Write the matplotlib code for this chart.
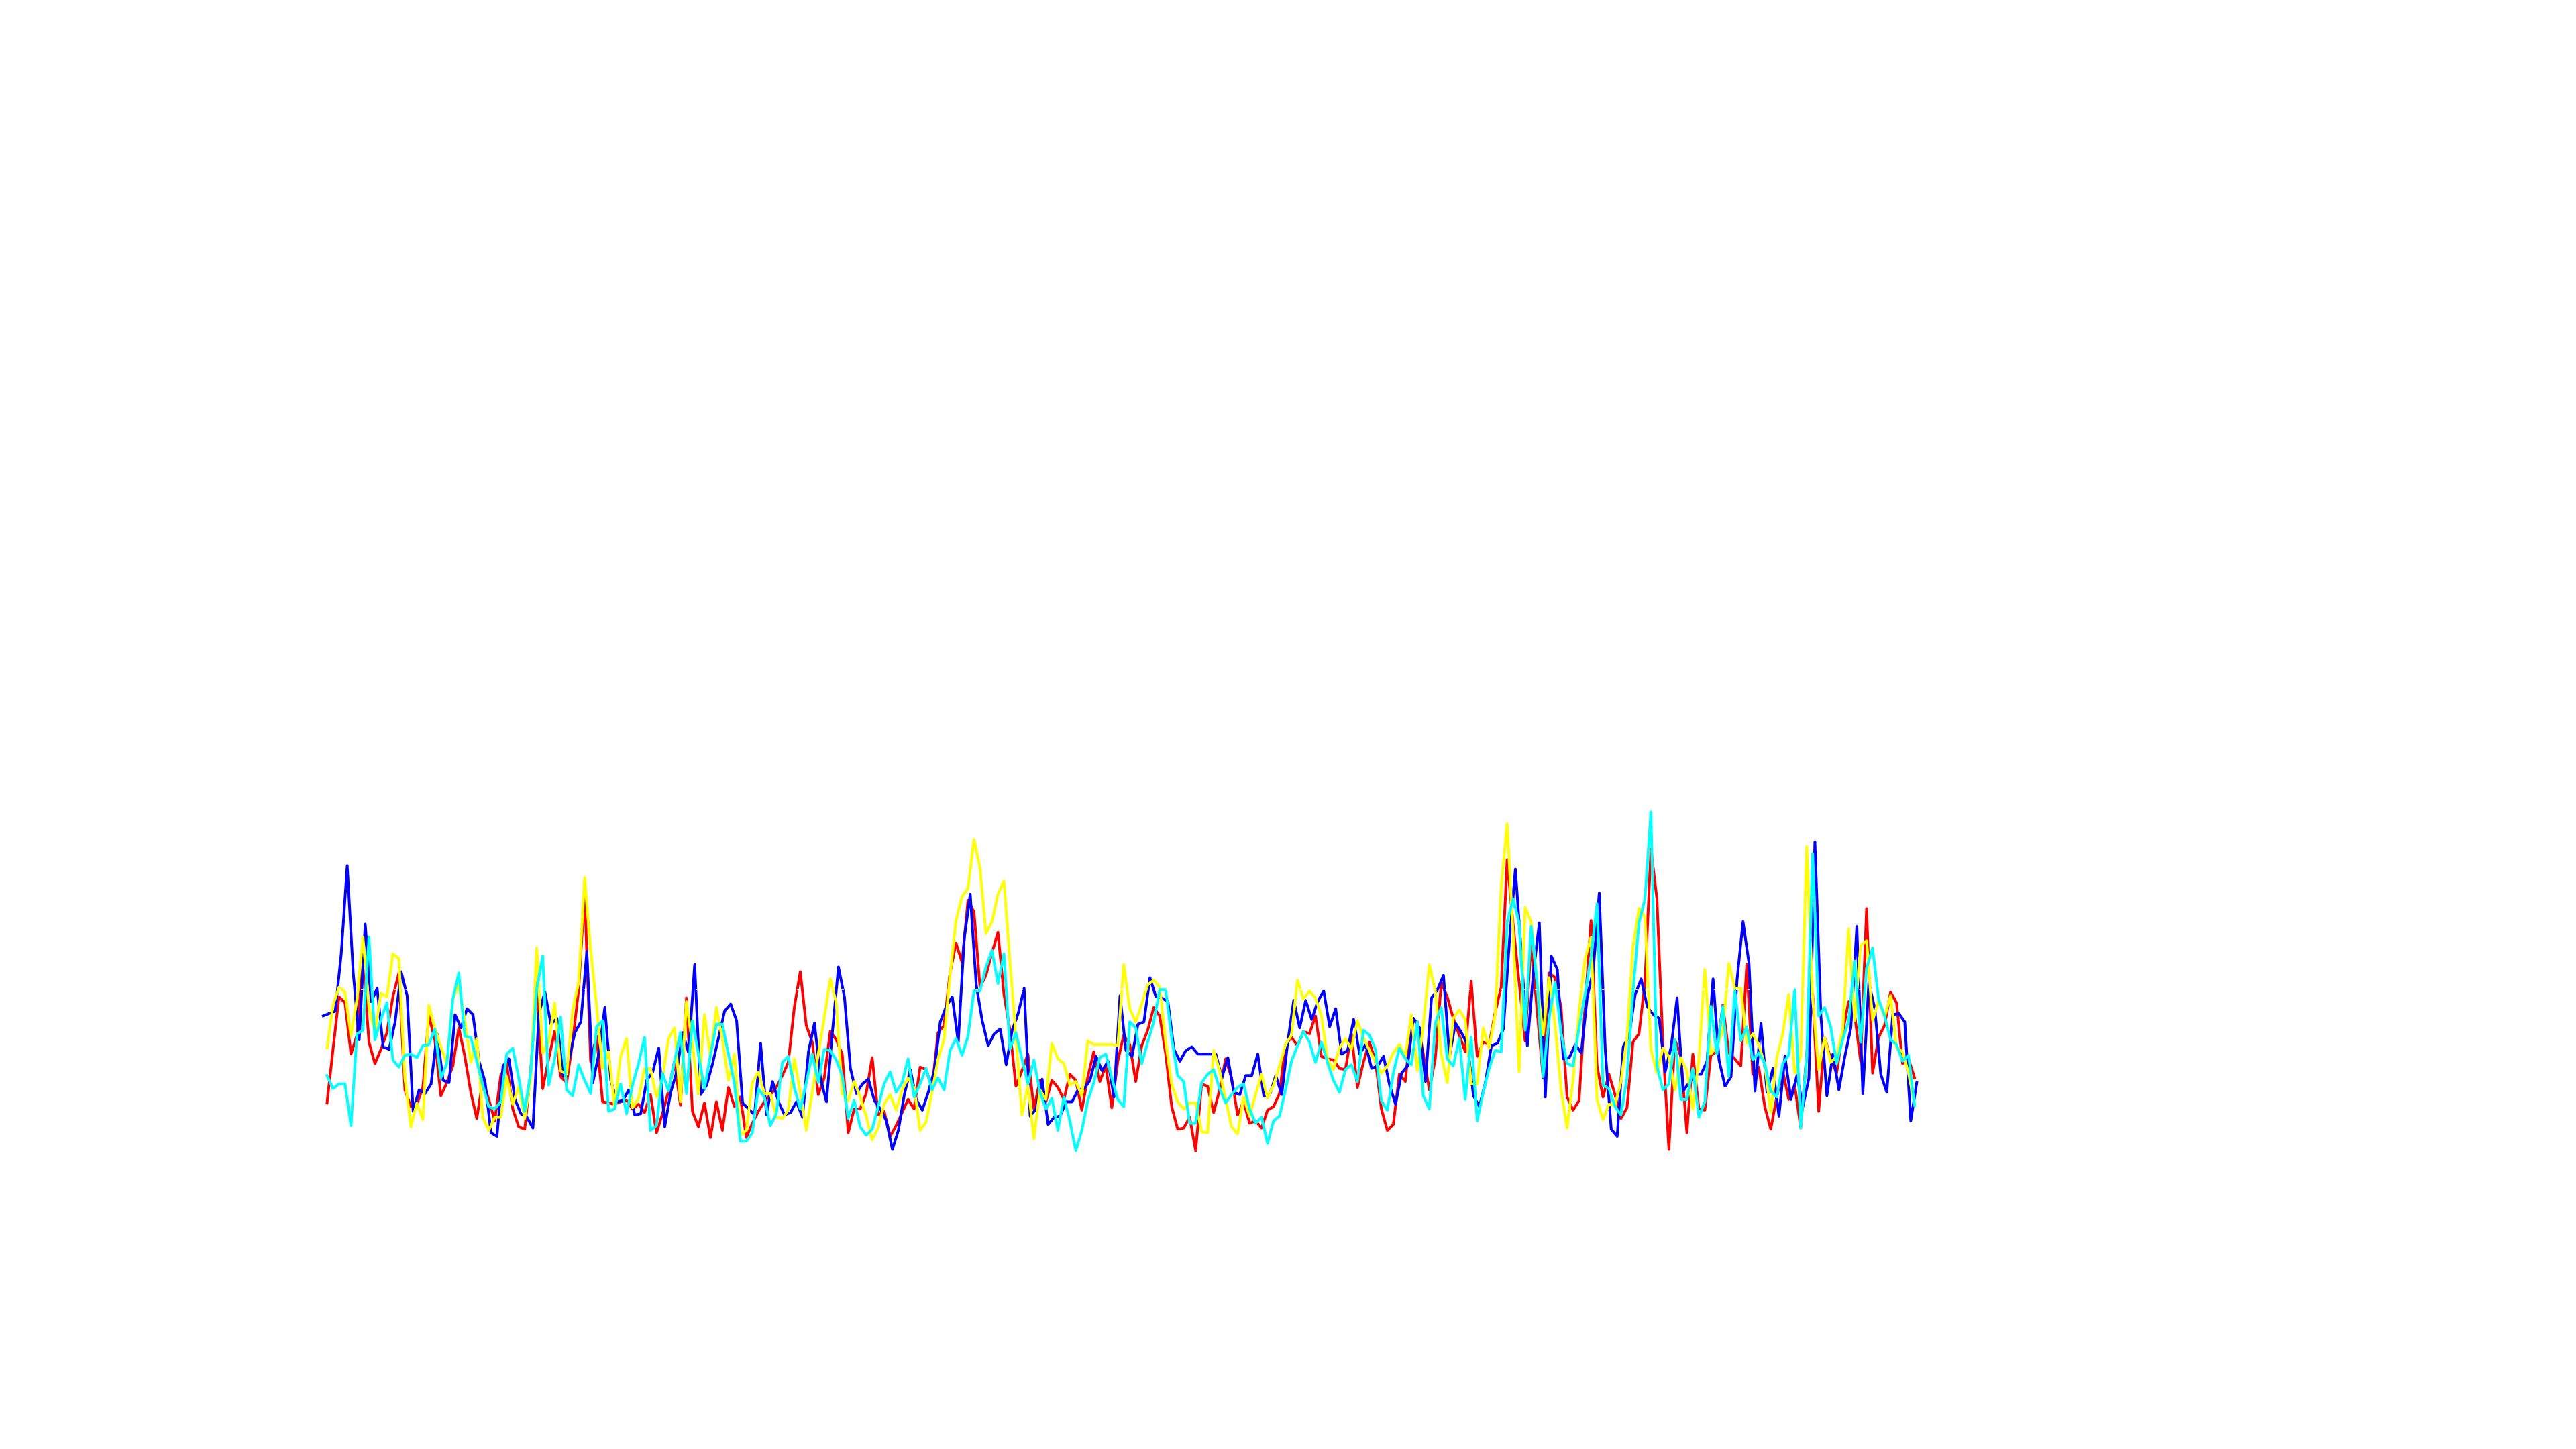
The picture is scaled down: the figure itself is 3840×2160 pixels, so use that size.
import numpy as np
import matplotlib
matplotlib.use("Agg")
import matplotlib.pyplot as plt

# ---- data ----
blue = [76, 77, 78, 102, 139, 94, 66, 114.5, 82, 87.5, 63, 62, 73.5, 94.5, 84.5, 36, 45, 43.5, 47.5, 68.5,
        49, 48, 76.5, 71, 79, 76.5, 57, 48.5, 27, 25.5, 55, 58, 41, 35, 33.5, 29, 77, 86, 72.5, 75,
        51, 57.5, 69, 73.5, 103, 48, 60, 79.5, 49, 40, 40.5, 45, 34.5, 35, 49, 52.5, 62.5, 29.5, 44, 52.5,
        69, 60.5, 97.5, 43, 47, 56, 67, 78, 81, 74, 39.5, 37, 34.5, 64.5, 34.5, 48.5, 40, 34.5, 35.5, 40,
        33.5, 61, 73, 50, 40, 69.5, 96.5, 84, 54, 43.5, 47.5, 49.5, 40.5, 37, 32, 20, 28, 43, 53.5, 41,
        36.5, 44, 53, 73.5, 80, 84, 65, 108.5, 127, 89, 74, 63.5, 68.5, 70.5, 55.5, 70, 77, 87.5, 34, 37,
        49.5, 30.5, 33.5, 34, 40, 40, 45, 45.5, 49, 59, 53, 57, 42, 84.5, 61.5, 59, 72.5, 73.5, 92, 84,
        83.5, 82, 62, 57, 61.5, 63, 60, 60, 60, 60, 50, 58.5, 44, 43, 51, 51, 60, 42.5, 43, 51,
        43, 65, 82.5, 71, 82.5, 74.5, 82, 86.5, 71.5, 79, 60, 61.5, 74.5, 60, 64, 54, 55, 59, 47, 39,
        52, 55, 75, 71, 48.5, 83.5, 87, 93, 59, 73, 69, 64, 42.5, 38, 48, 63.5, 64.5, 70.5, 107, 137.5,
        102, 63.5, 94, 115, 42, 101, 95.5, 58, 58.5, 64, 60.5, 84, 95, 127.5, 62, 28.5, 25.5, 63, 68, 85,
        91.5, 80, 76.5, 75, 52.5, 63, 83.5, 44.5, 48, 51.5, 51.5, 57, 91.5, 57.5, 46.5, 50.5, 91, 115.5, 98, 44.5,
        73, 44, 54, 34, 59, 41, 51, 38, 50, 149, 76, 42.5, 60, 45, 59, 71, 113.5, 43.5, 90, 79,
        51.5, 44, 76.5, 77, 73.5, 32, 48]

red = [39.5, 62, 84, 81.5, 60, 68, 100, 65, 56, 62, 69, 84, 94, 45, 38, 39, 46, 76, 66, 42.5,
       48, 55, 71, 59, 44, 33, 49, 41, 32, 51, 56, 37, 29.5, 28.5, 53, 90, 45.5, 58, 69.5, 50.5,
       48, 65, 87, 128, 57, 67.5, 40, 39.5, 39, 40, 40.5, 37, 39, 35.5, 43, 27, 35, 44.5, 57, 38.5,
       83.5, 36, 29.5, 39.5, 25, 40, 28, 46, 38, 42, 25, 31, 36, 40, 43, 46, 51, 56.5, 79.5, 94.5,
       72, 65, 43, 50, 69.5, 66, 60, 27, 37, 37, 43.5, 58.5, 34.5, 36, 25.5, 30, 35.5, 41, 37, 54.5,
       53.5, 46, 69, 72, 94, 106.5, 98.5, 124.5, 119.5, 88, 93, 102.5, 111, 85, 70, 46.5, 53, 60, 37, 49,
       40, 49, 46, 41, 51.5, 49, 36.5, 50.5, 61, 48.5, 55, 37.5, 57, 68, 64, 48.5, 63.5, 70, 79.5, 76,
       60, 38, 28.5, 29, 33.5, 19.5, 47.5, 46.5, 35.5, 45, 58, 50, 34.5, 40, 31, 32, 29, 36.5, 38, 43.5,
       64, 67, 63.5, 69.5, 68.5, 76, 59, 58, 57.5, 54, 53.5, 68.5, 46, 56.5, 65, 57.5, 37, 28, 30.5, 51.5,
       48.5, 74, 73.5, 60, 45, 58, 90, 84, 75, 68, 61, 90.5, 59, 65, 64, 77.5, 88, 141.5, 114, 90,
       65.5, 107, 78, 50, 94, 92, 79.5, 42, 36.5, 40.5, 80, 116, 55, 42, 51.5, 43, 33, 37.5, 65, 68.5,
       90, 146, 125, 64, 20, 66, 59, 27, 60, 37, 36.5, 59.5, 61, 80.5, 60.5, 58, 55, 97.5, 51.5, 54.5,
       38, 28.5, 42, 53, 41, 47, 29, 60, 85, 36, 67, 58, 52, 69, 82, 76.5, 57, 121, 52, 67,
       72, 86, 81.5, 56, 58, 50]

yellow = [62.5, 80.5, 88, 86, 67.5, 83, 109, 79.5, 69, 85.5, 84, 102, 100, 50, 29.5, 39.5, 32.5, 80.5, 71, 63,
          56, 83, 89, 74, 56.5, 66.5, 33.5, 28, 33.5, 33.5, 50.5, 39, 46.5, 33, 50, 104.5, 60.5, 65, 81.5, 53,
          51.5, 78.5, 90, 134, 104, 80, 54, 61, 38, 59, 66.5, 37.5, 41.5, 54, 54, 42, 50, 66.5, 71, 40,
          82, 64, 43, 76.5, 59, 79.5, 66, 49, 60, 26, 28, 48, 52.5, 43.5, 43.5, 33.5, 33, 36.5, 58, 44,
          28, 44, 60, 75, 91.5, 81.5, 43.5, 40.5, 48.5, 42, 34, 24, 29, 39, 43, 36.5, 45, 50, 46, 28,
          31.5, 44, 58, 66, 93, 116, 126, 129.5, 150, 138, 110.5, 115.5, 127, 132.5, 99, 67, 34.5, 47, 24.5, 45,
          41, 64.5, 58, 56, 47, 48.5, 42.5, 65.5, 64, 64, 64, 64, 63.5, 97.5, 79, 73.5, 81, 89, 91, 88,
          65, 47.5, 40, 37, 39.5, 39.5, 27.5, 27, 61.5, 53, 41, 29.5, 26.5, 42, 34, 43, 51.5, 41.5, 47, 55,
          64, 68, 91, 83, 86.5, 83.5, 76, 58, 53.5, 62.5, 66.5, 62, 74, 67, 61.5, 57, 52, 55, 60.5, 64,
          59, 76.5, 53, 72, 97.5, 86.5, 60, 48, 75, 78.5, 74.5, 47.5, 47.5, 71, 62.5, 76.5, 130, 156.5, 110, 52.5,
          121.5, 115.5, 90, 68, 92, 72, 45, 29, 49, 78, 100, 109, 41, 32.5, 39, 38.5, 48.5, 67, 105, 121,
          117.5, 62, 52, 62.5, 59, 45, 58.5, 53, 37, 58, 95.5, 60, 63.5, 69.5, 98, 87.5, 87.5, 64.5, 68.5, 64,
          55.5, 35.5, 58.5, 68.5, 85, 52, 59, 147, 83, 53.5, 67, 56.5, 59, 70, 112.5, 74, 105.5, 107.5, 74, 82.5,
          75.5, 84.5, 62.5, 61, 52, 39]

cyan = [51, 45.5, 47.5, 47.5, 30, 68.5, 70, 109, 66, 74.5, 81.5, 57.5, 54.5, 59.5, 60, 58.5, 63.5, 64, 70.5, 50,
        56, 83, 94, 67.5, 67, 57, 47, 38, 37, 40, 60, 62.5, 50, 36, 52.5, 87, 101, 47, 58, 75.5,
        45, 42.5, 55.5, 49, 43.5, 71.5, 74, 36, 37, 47.5, 35, 47, 56, 67, 28, 30, 52, 44.5, 57, 69,
        43.5, 74, 60, 45.5, 59.5, 72.5, 72.5, 60, 48, 23.5, 23.5, 27, 45.5, 42, 30, 35, 56.5, 59, 46, 37,
        48, 60, 48, 62, 61.5, 57.5, 51, 33, 40.5, 29.5, 26, 28.5, 38, 47.5, 52.5, 44, 48, 58, 42, 47.5,
        54, 45, 50, 45, 61.5, 66.5, 59.5, 67.5, 86.5, 86.5, 96.5, 103.5, 89.5, 102, 62, 69, 58, 47.5, 57.5, 44,
        37, 41.5, 28, 42, 32, 19.5, 28, 40.5, 48, 58.5, 60, 50, 41, 38, 73.5, 71, 56, 65, 73.5, 87,
        87, 66.5, 51, 48.5, 31, 31, 48, 51.5, 53.5, 45.5, 39.5, 43, 46, 47.5, 37, 31, 33.5, 22.5, 32, 34,
        45, 57, 63.5, 69.5, 65, 56.5, 65, 56.5, 49, 44, 53.5, 55.5, 48.5, 70, 68, 62, 40.5, 36.5, 52, 62.5,
        58, 55.5, 73.5, 42.5, 37, 73, 79.5, 58, 55, 66.5, 41, 67, 32, 44, 54, 61.5, 61, 115.5, 125, 115,
        70, 113.5, 90, 50.5, 75, 90, 69, 56, 55, 71, 85, 101, 123, 47, 45.5, 38, 34.5, 50, 86, 115,
        125, 161.5, 55, 45, 47.5, 66, 41, 41, 54, 33.5, 40, 80, 60, 80, 50.5, 86.5, 65.5, 71.5, 57.5, 60.5,
        56, 44.5, 42, 56, 59.5, 87, 29, 59, 144, 76, 79.5, 71.5, 56, 66, 74, 99, 65, 96, 104.5, 83,
        76, 66, 64, 57, 59.5, 38.5]

reference_level = 87.1   # white dashed guide line
blue_shift = -0.63       # blue series sampled slightly offset from the others

# ---- figure ----
W, H, DPI = 3840, 2160, 100
fig = plt.figure(figsize=(W / DPI, H / DPI), dpi=DPI, facecolor="white")

n = len(red)
x_left_px, step_px = 487.5, 8.93
y_zero_px, unit_px, ymax = 1784.7, 3.557, 200.0

ax = fig.add_axes([x_left_px / W,
                   (H - y_zero_px) / H,
                   (n - 1) * step_px / W,
                   ymax * unit_px / H])
ax.set_xlim(0, n - 1)
ax.set_ylim(0, ymax)
ax.set_axis_off()

lw = 2.9
x = np.arange(len(red))
xb = np.arange(len(blue)) + blue_shift
ax.plot(x, red, color="#ff0000", lw=lw, zorder=2, clip_on=False)
ax.plot(xb, blue, color="#0000ff", lw=lw, zorder=3, clip_on=False)
ax.plot(np.arange(len(yellow)), yellow, color="#ffff00", lw=lw, zorder=4, clip_on=False)
ax.plot(np.arange(len(cyan)), cyan, color="#00ffff", lw=lw, zorder=5, clip_on=False)

ax.axhline(reference_level, color="white", lw=1.2, dashes=(2.0, 8.0), zorder=10)

fig.savefig("out.png", dpi=DPI, facecolor="white")
